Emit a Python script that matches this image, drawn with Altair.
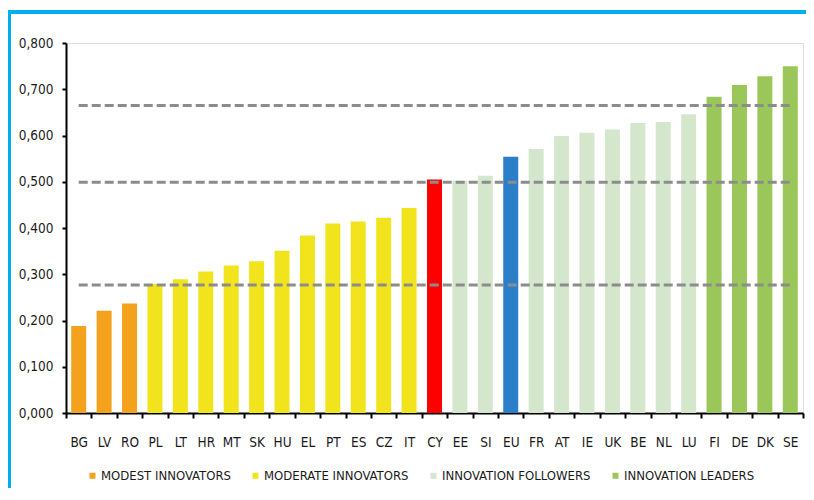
import altair as alt
import pandas as pd

countries = ["BG", "LV", "RO", "PL", "LT", "HR", "MT", "SK", "HU", "EL", "PT", "ES", "CZ", "IT",
             "CY", "EE", "SI", "EU", "FR", "AT", "IE", "UK", "BE", "NL", "LU", "FI", "DE", "DK", "SE"]
values = [0.188, 0.221, 0.237, 0.279, 0.289, 0.306, 0.319, 0.328, 0.351, 0.384, 0.410, 0.414, 0.422, 0.443,
          0.505, 0.502, 0.513, 0.554, 0.571, 0.599, 0.606, 0.613, 0.627, 0.629, 0.646, 0.684, 0.709, 0.728, 0.750]
groups = (["MODEST INNOVATORS"] * 3 + ["MODERATE INNOVATORS"] * 11 + ["CY"] +
          ["INNOVATION FOLLOWERS"] * 2 + ["EU"] + ["INNOVATION FOLLOWERS"] * 7 +
          ["INNOVATION LEADERS"] * 4)
legend_groups = ["MODEST INNOVATORS", "MODERATE INNOVATORS", "INNOVATION FOLLOWERS", "INNOVATION LEADERS"]
group_colors = ["#F4A21E", "#F2E41C", "#D4E7CC", "#9BC75A"]
special = ["CY", "EU"]
special_colors = ["#FF0000", "#2A7FC8"]
thresholds = [0.277, 0.499, 0.665]

FONT = "DejaVu Sans Condensed"

df = pd.DataFrame({"country": countries, "value": values, "group": groups})
rules_df = pd.DataFrame({"t": thresholds, "x1": countries[0], "x2": countries[-1]})

xscale = alt.Scale(domain=countries, paddingInner=0, paddingOuter=0)
yscale = alt.Scale(domain=[0, 0.8])

bars = alt.Chart(df).mark_bar(width=alt.RelativeBandSize(0.59)).encode(
    x=alt.X("country:N", sort=countries, scale=xscale,
            axis=alt.Axis(title=None, labelAngle=0, tickBand="extent", labelPadding=17,
                          labelFontSize=13.5, labelFont=FONT, labelColor="#1a1a1a",
                          domainColor="#000", domainWidth=2, tickColor="#000",
                          tickWidth=2, tickSize=5)),
    y=alt.Y("value:Q", scale=yscale,
            axis=alt.Axis(title=None, values=[0, 0.1, 0.2, 0.3, 0.4, 0.5, 0.6, 0.7, 0.8],
                          labelExpr="replace(format(datum.value, '.3f'), '.', ',')",
                          grid=False, labelFontSize=13.5, labelFont=FONT, labelColor="#1a1a1a",
                          labelPadding=9, domainColor="#000", domainWidth=2,
                          tickColor="#000", tickWidth=2, tickSize=4)),
    color=alt.Color("group:N",
                    scale=alt.Scale(domain=legend_groups + special, range=group_colors + special_colors),
                    legend=alt.Legend(values=legend_groups, title=None, orient="none",
                                      direction="horizontal", legendX=20, legendY=426,
                                      symbolType="square", symbolSize=36, symbolStrokeWidth=0,
                                      labelFont=FONT, labelFontSize=13, labelColor="#1a1a1a",
                                      labelLimit=0, labelOffset=2, columnPadding=18)),
)

rules = alt.Chart(rules_df).mark_rule(color="#8c8c8c", strokeWidth=3, strokeDash=[9, 4]).encode(
    x=alt.X("x1:N", scale=xscale, sort=countries),
    x2="x2:N",
    y=alt.Y("t:Q", scale=yscale),
)

frame = alt.Chart(df).mark_rect(filled=False, stroke="#00AEEF", strokeWidth=4).encode(
    x=alt.value(-57), x2=alt.value(780), y=alt.value(-31), y2=alt.value(500)
)

chart = alt.layer(bars, rules, frame).properties(
    width=737, height=370,
    autosize=alt.AutoSizeParams(type="none"),
    padding={"left": 58, "top": 35, "right": 3, "bottom": 75},
).configure_view(stroke=None).configure(background="white")

chart.save("out.html", embed_options={"renderer": "svg", "actions": False})
